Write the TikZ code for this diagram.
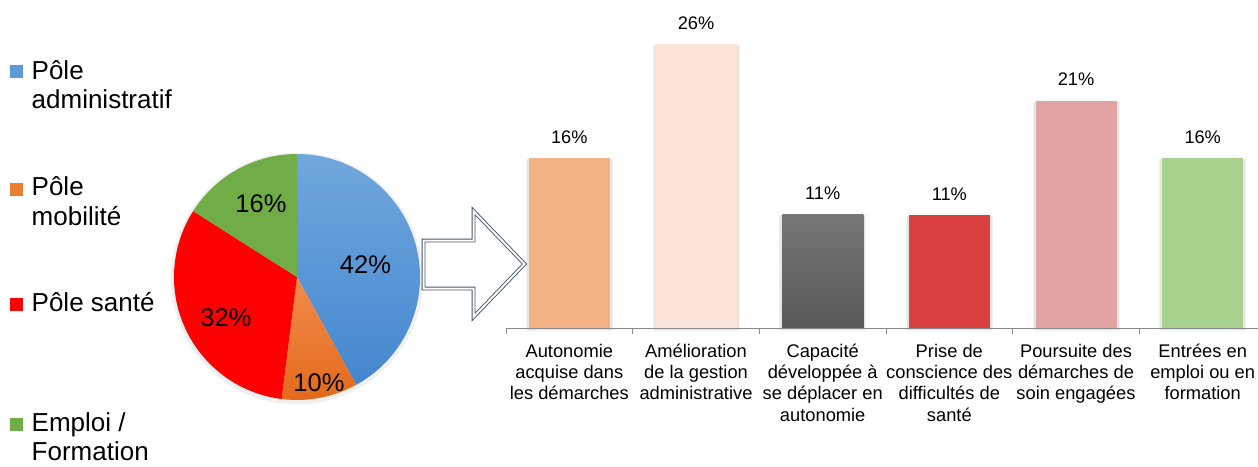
\documentclass[tikz,border=0pt]{standalone}
\usepackage{fontspec}
\setmainfont{Liberation Sans}
\definecolor{sqblue}{HTML}{5B9BD5}
\definecolor{sqorange}{HTML}{ED7D31}
\definecolor{sqred}{HTML}{FF0000}
\definecolor{sqgreen}{HTML}{70AD47}
\definecolor{pieblueA}{HTML}{70A7DD}
\definecolor{pieblueB}{HTML}{4487CF}
\definecolor{pieorangeA}{HTML}{F28C4A}
\definecolor{pieorangeB}{HTML}{E2691A}
\definecolor{arrowc}{HTML}{44546A}
\definecolor{axisc}{HTML}{898989}
\definecolor{bA}{HTML}{F4B183}
\definecolor{bB}{HTML}{F9E4D7}
\definecolor{bCa}{HTML}{777777}
\definecolor{bCb}{HTML}{585858}
\definecolor{bD}{HTML}{DA4040}
\definecolor{bE}{HTML}{E2A3A3}
\definecolor{bF}{HTML}{A9D18E}
\begin{document}
\begin{tikzpicture}[x=1pt,y=-1pt,
  legsq/.style={minimum size=13pt,inner sep=0pt,anchor=south west},
  legtxt/.style={font=\fontsize{26}{29.3}\selectfont,anchor=base west,align=left,inner sep=0pt},
  pielbl/.style={font=\fontsize{25.5}{30}\selectfont,anchor=base,inner sep=0pt},
  vallbl/.style={font=\fontsize{18.2}{21}\selectfont,anchor=base,inner sep=0pt},
  catlbl/.style={font=\fontsize{18.3}{21.3}\selectfont,anchor=base,align=center,inner sep=0pt},
  bigarrow/.style={draw=arrowc,line width=0.9pt,double=white,double distance=2pt,line join=miter},
  barshadow/.style={fill=black,opacity=0.05}
]
\useasboundingbox (0,0) rectangle (1258,466);

% ---------------- legend (base anchor = last line's baseline) ----------------
\node[legsq,fill=sqblue]   (sq1) at (10,78) {};
\node[legtxt] (lg1) at (31.5,108.3) {Pôle\\administratif};
\node[legsq,fill=sqorange] (sq2) at (10,195.7) {};
\node[legtxt] (lg2) at (31.5,225) {Pôle\\mobilité};
\node[legsq,fill=sqred]    (sq3) at (10,310.7) {};
\node[legtxt] (lg3) at (31.5,311.7) {Pôle santé};
\node[legsq,fill=sqgreen]  (sq4) at (10,430.7) {};
\node[legtxt] (lg4) at (31.5,460.5) {Emploi /\\Formation};

% ---------------- pie ----------------
\begin{scope}[shift={(297,277)},yscale=-1]
  \fill[black,opacity=0.06] (0,-1.5) circle[radius=126];
  \shade[top color=pieblueA,bottom color=pieblueB]
    (0,0) -- (90:123) arc[start angle=90,end angle=-61.2,radius=123] -- cycle;
  \shade[top color=pieorangeA,bottom color=pieorangeB]
    (0,0) -- (-61.2:123) arc[start angle=-61.2,end angle=-97.2,radius=123] -- cycle;
  \fill[sqred]
    (0,0) -- (-97.2:123) arc[start angle=-97.2,end angle=-212.4,radius=123] -- cycle;
  \fill[sqgreen]
    (0,0) -- (-212.4:123) arc[start angle=-212.4,end angle=-270,radius=123] -- cycle;
\end{scope}
\node[pielbl] (p42) at (365.5,273.3) {42\%};
\node[pielbl] (p10) at (319,391.7) {10\%};
\node[pielbl] (p32) at (226,326.7) {32\%};
\node[pielbl] (p16) at (261,212.7) {16\%};

% ---------------- block arrow ----------------
\draw[bigarrow] (423.5,240.5) -- (473.5,240.5) -- (473.5,211) -- (524.5,264)
  -- (473.5,317) -- (473.5,288.5) -- (423.5,288.5) -- cycle;

% ---------------- bar chart ----------------
\foreach \i/\t in {0/158,1/44,2/214,3/215,4/101,5/158}{
  \pgfmathsetmacro{\cx}{506+126.67*(\i+0.5)}
  \fill[barshadow] (\cx-43.5,\t+1) rectangle (\cx+43.5,331);
  \fill[barshadow] (\cx-42.5,\t+0.5) rectangle (\cx+42.5,330);
}
\fill[bA] (529,158) rectangle (610,328);
\fill[bB] (655.5,44) rectangle (736.5,328);
\shade[top color=bCa,bottom color=bCb] (782.3,214) rectangle (863.3,328);
\fill[bD] (909,215) rectangle (990,328);
\fill[bE] (1035.7,101) rectangle (1116.7,328);
\fill[bF] (1162.3,158) rectangle (1243.3,328);

\draw[axisc,line width=1pt] (506,328) -- (1258,328);
\foreach \k in {0,...,5}{
  \draw[axisc,line width=1pt] (506+126.67*\k,328) -- (506+126.67*\k,333.5);
}

\node[vallbl] (v1) at (569.3,143) {16\%};
\node[vallbl] (v2) at (696,29) {26\%};
\node[vallbl] (v3) at (822.7,199) {11\%};
\node[vallbl] (v4) at (949.3,200) {11\%};
\node[vallbl] (v5) at (1076,85) {21\%};
\node[vallbl] (v6) at (1202.7,143) {16\%};

\node[catlbl] (c1) at (569.3,399.9) {Autonomie\\acquise dans\\les démarches};
\node[catlbl] (c2) at (696,399.9) {Amélioration\\de la gestion\\administrative};
\node[catlbl] (c3) at (822.7,421.2) {Capacité\\développée à\\se déplacer en\\autonomie};
\node[catlbl] (c4) at (949.3,421.2) {Prise de\\conscience des\\difficultés de\\santé};
\node[catlbl] (c5) at (1076,399.9) {Poursuite des\\démarches de\\soin engagées};
\node[catlbl] (c6) at (1202.7,399.9) {Entrées en\\emploi ou en\\formation};
\end{tikzpicture}
\end{document}
